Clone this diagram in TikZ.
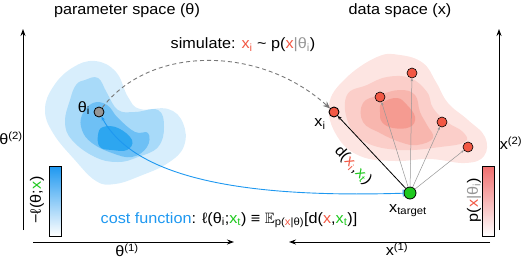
\documentclass[tikz,border=0pt]{standalone}
\usepackage{fontspec}
\usepackage{amssymb}
\setmainfont[FakeStretch=1.08]{Liberation Sans}
\usetikzlibrary{arrows.meta}
\definecolor{bla}{RGB}{216,238,252}
\definecolor{blb}{RGB}{168,218,249}
\definecolor{blc}{RGB}{110,192,245}
\definecolor{bld}{RGB}{45,166,240}
\definecolor{costblue}{RGB}{30,152,240}
\definecolor{rda}{RGB}{253,229,226}
\definecolor{rdb}{RGB}{251,206,201}
\definecolor{rdc}{RGB}{248,182,174}
\definecolor{rdd}{RGB}{245,155,145}
\definecolor{xred}{RGB}{242,88,68}
\definecolor{xgreen}{RGB}{30,200,30}
\definecolor{cbred}{RGB}{240,110,110}
\definecolor{thgray}{RGB}{150,150,150}
\tikzset{
  every node/.style={font=\fontsize{15}{18}\selectfont, inner sep=0pt},
  axis/.style={line width=0.9pt, -{Stealth[length=7pt,width=5pt]}},
  redpt/.style={circle, draw=black, line width=0.6pt, fill=xred, minimum size=10pt},
  raylink/.style={draw=thgray, line width=0.5pt, -{Stealth[length=3pt,width=2.5pt]}},
  cbar/.style={draw=black, line width=0.6pt, minimum width=12pt, minimum height=70pt, bottom color=white}
}
\begin{document}
\begin{tikzpicture}[x=1pt,y=-1pt]
\useasboundingbox (0,0) rectangle (522,258);
% blue blob
\fill[bla] plot[smooth cycle, tension=0.7] coordinates {(95,61) (116,72) (128,97) (140,109) (168,109) (183,123) (184,146) (168,163) (140,176) (115,184) (96,181) (74,159) (53,133) (45,110) (53,87) (72,68)};
\fill[blb] plot[smooth cycle, tension=0.7] coordinates {(85,80) (98,78) (107,93) (118,110) (135,112) (158,110) (164,127) (158,147) (138,157) (118,162) (95,157) (72,140) (65,122) (70,100) (76,85)};
\fill[blc] plot[smooth cycle, tension=0.7] coordinates {(93,103) (107,105) (118,118) (135,132) (148,133) (147,147) (132,157) (112,153) (92,143) (82,130) (82,115)};
\fill[bld] plot[smooth cycle, tension=0.7] coordinates {(103,127) (118,128) (132,140) (127,150) (112,150) (100,147) (98,135)};
% red blob
\fill[rda] plot[smooth cycle, tension=0.7] coordinates {(329,105) (345,79) (377,57) (400,55) (423,63) (436,82) (448,103) (468,120) (485,137) (484,156) (465,163) (430,159) (395,161) (360,156) (337,136)};
\fill[rdb] plot[smooth cycle, tension=0.7] coordinates {(347,95) (367,85) (387,77) (410,78) (427,92) (433,108) (447,122) (463,132) (465,142) (440,147) (400,150) (365,142) (348,122)};
\fill[rdc] plot[smooth cycle, tension=0.7] coordinates {(363,103) (380,95) (400,90) (415,95) (420,112) (427,125) (433,138) (417,145) (400,142) (380,133) (363,122)};
\fill[rdd] plot[smooth cycle, tension=0.7] coordinates {(382,103) (397,98) (407,105) (415,117) (410,127) (393,128) (382,122) (380,112)};
% titles
\node (t1) at (127,11) {parameter space (θ)};
\node (t2) at (400,11) {data space (x)};
% axes
\coordinate (lvb) at (23,230); \coordinate (lvt) at (23,29);
\coordinate (lhl) at (33,242); \coordinate (lhr) at (234,242);
\coordinate (rvb) at (499,230); \coordinate (rvt) at (499,29);
\coordinate (rhr) at (490,242); \coordinate (rhl) at (289,242);
\draw[axis] (lvb) -- (lvt);
\draw[axis] (lhl) -- (lhr);
\draw[axis] (rvb) -- (rvt);
\draw[axis] (rhr) -- (rhl);
\node (ax2) at (11,138) {θ\textsuperscript{(2)}};
\node (ax1) at (127,250) {θ\textsuperscript{(1)}};
\node (ay2) at (511,143) {x\textsuperscript{(2)}};
\node (ay1) at (397,249) {x\textsuperscript{(1)}};
% colorbars
\node[cbar, top color=costblue] (cbl) at (55,201) {};
\node[cbar, top color=cbred] (cbr) at (488,201) {};
\node[rotate=90] (cbll) at (37,200) {−ℓ(θ;{\color{xgreen}x})};
\node[rotate=90] (cbrl) at (474,200) {p({\color{xred}x}{\color{thgray}|θ\textsubscript{i}})};
% points
\node[circle, draw=black, line width=0.8pt, fill=thgray, minimum size=10pt] (thi) at (99,112) {};
\node (thil) at (84,108) {θ\textsubscript{i}};
\node[redpt, line width=0.9pt] (xi) at (334,112) {};
\node (xil) at (320,124) {x\textsubscript{i}};
\node[redpt] (p1) at (412,73) {};
\node[redpt] (p2) at (380,97) {};
\node[redpt] (p3) at (442,122) {};
\node[redpt] (p4) at (468,147) {};
\node[circle, draw=black, line width=0.8pt, fill=xgreen, minimum size=12pt] (xt) at (410,193) {};
\node (xtl) at (408,211) {x\textsubscript{target}};
% connectors
\draw[raylink] (xt) -- (p1);
\draw[raylink] (xt) -- (p2);
\draw[raylink] (xt) -- (p3);
\draw[raylink] (xt) -- (p4);
\draw[line width=0.8pt, -{Stealth[length=4pt,width=3.5pt]}] (xt) -- (xi);
\node[rotate=-47] (dl) at (353,166) {d({\color{xred}x\textsubscript{i}},{\color{xgreen}x\textsubscript{t}})};
\draw[thgray!80!black, dashed, dash pattern=on 4pt off 3pt, line width=0.9pt, -{Stealth[length=7pt,width=6pt]}] (thi) .. controls (150,45) and (260,45) .. (xi);
\draw[costblue, line width=0.9pt, {Stealth[length=4pt,width=3.5pt]}-{Bar[width=7pt]}] (thi) .. controls (140,188) and (280,197) .. (xt);
% texts
\node (sim) at (243,45) {simulate: {\color{xred}x\textsubscript{i}} \textasciitilde{} p({\color{xred}x}{\color{thgray}|θ\textsubscript{i}})};
\node (cost) at (229,220) {{\color{costblue}cost function}: ℓ(θ\textsubscript{i};{\color{xgreen}x\textsubscript{t}}) ≡ $\mathbb{E}$\textsubscript{p({\color{xred}x}|θ)}[d({\color{xred}x},{\color{xgreen}x\textsubscript{t}})]};
\end{tikzpicture}
\end{document}
